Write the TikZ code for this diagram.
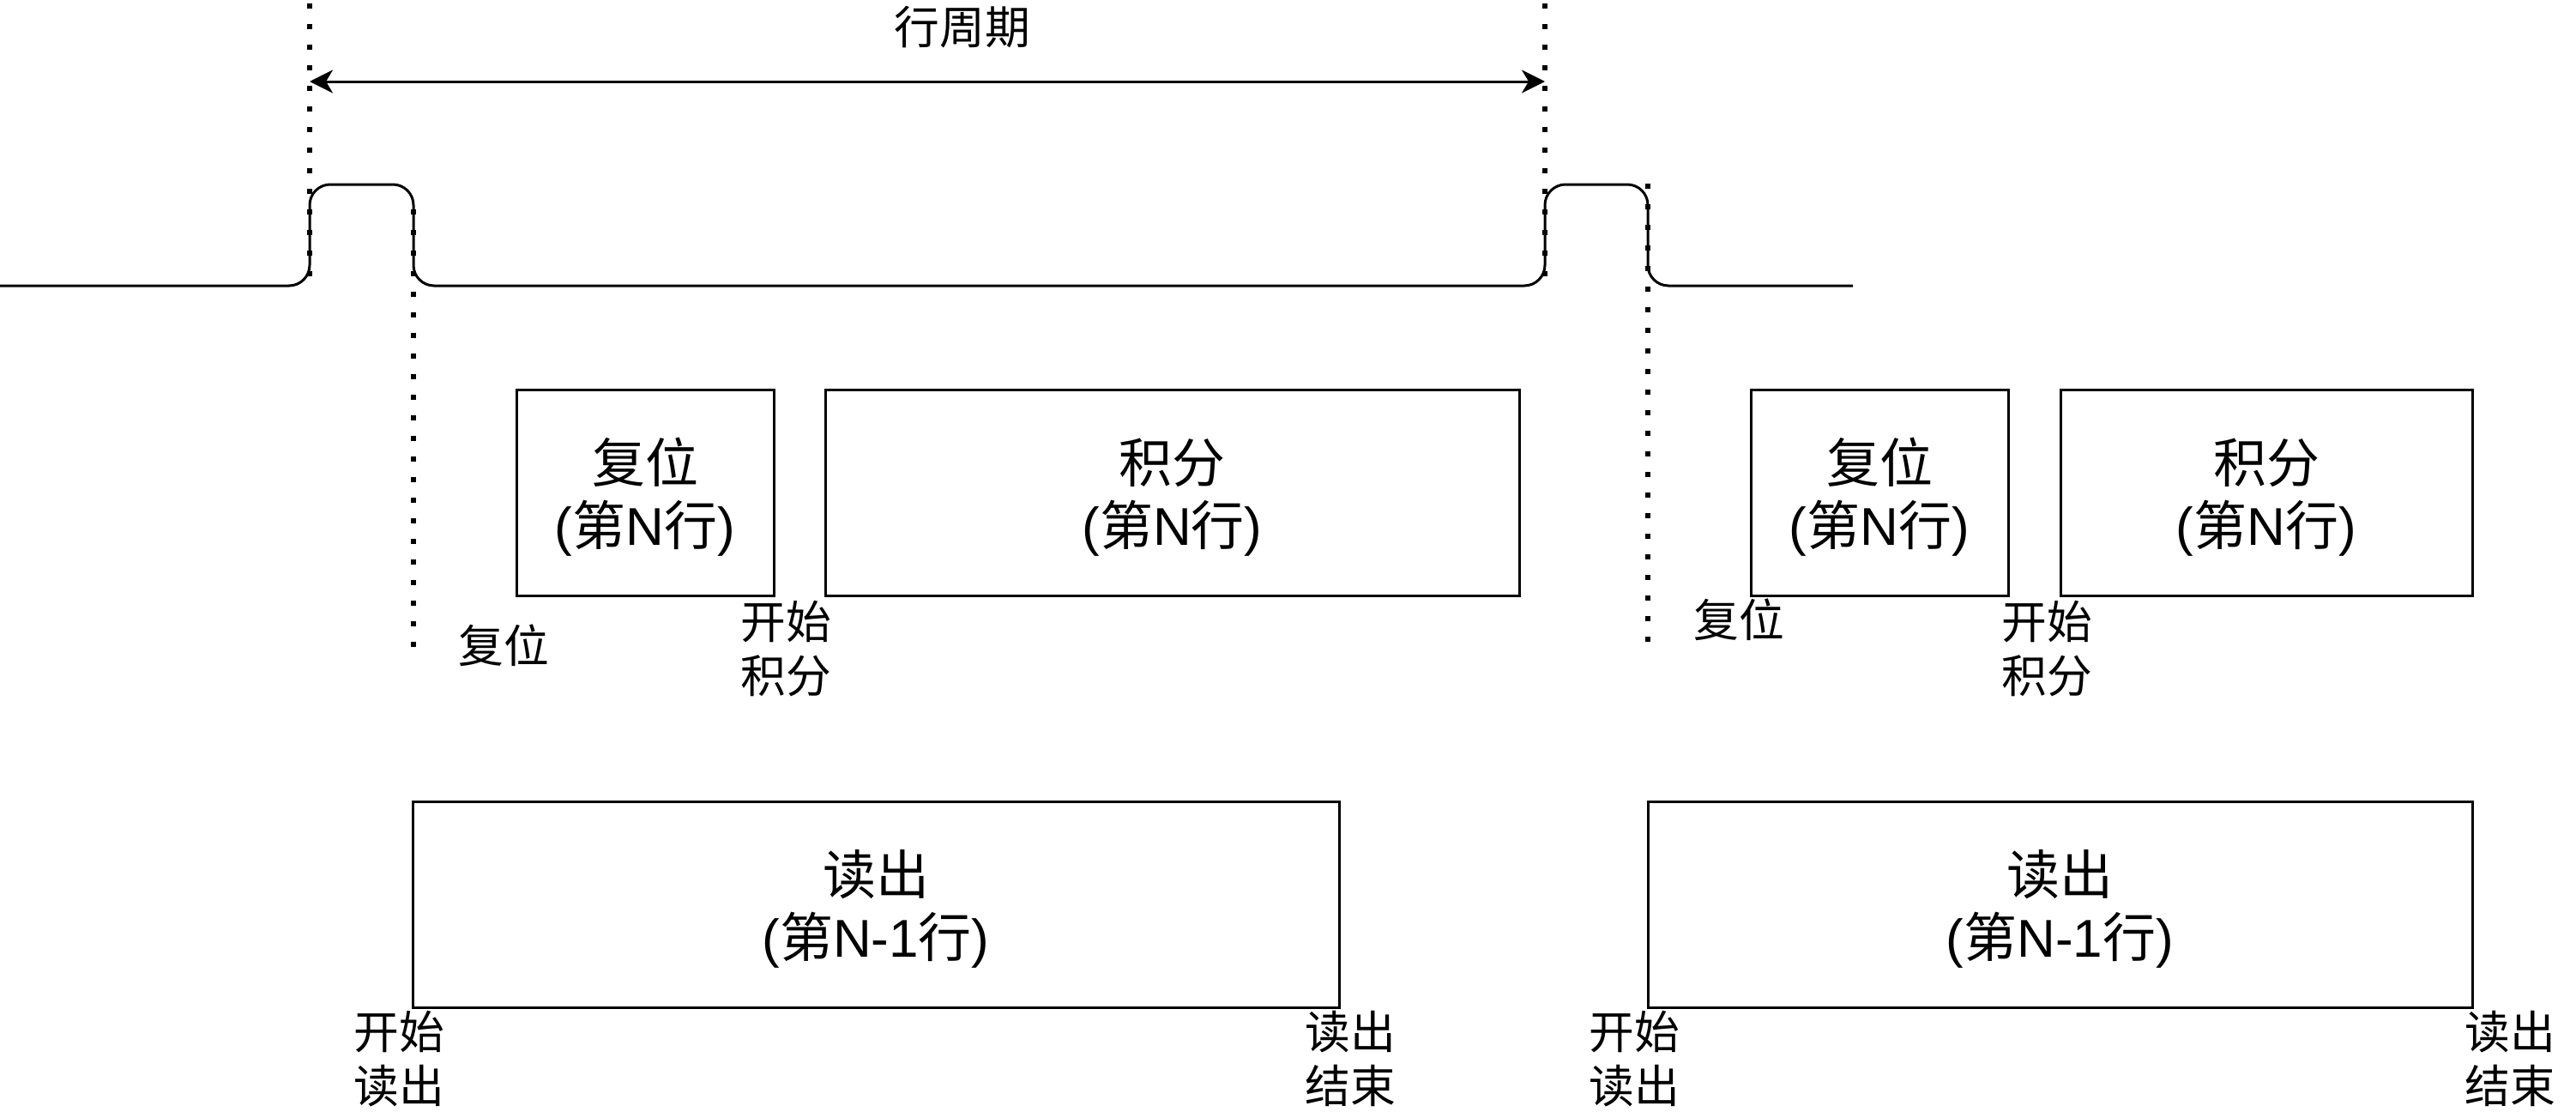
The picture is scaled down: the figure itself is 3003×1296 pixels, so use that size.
\documentclass[tikz,border=0pt]{standalone}
\usepackage{fontspec}
\setmainfont{Liberation Sans}
\newfontfamily\cjk{Noto Sans CJK SC}
\usetikzlibrary{arrows.meta}
\newcommand{\hz}[1]{{\cjk #1}}

\begin{document}
\begin{tikzpicture}[x=0.25pt,y=-0.25pt,
  wave/.style={line width=0.75pt, rounded corners=6pt},
  guide/.style={line width=1.5pt, dash pattern=on 1.5pt off 4.5pt},
  phase/.style={draw, line width=0.75pt, inner sep=0pt, minimum height=60pt},
  phasetext/.style={inner sep=0pt, align=center, yshift=-1.25pt,
    font=\fontsize{15.5pt}{18.25pt}\selectfont},
  tag/.style={inner sep=0pt, align=center, font=\fontsize{13.2pt}{15.6pt}\selectfont},
  span/.style={line width=0.75pt,
    {Stealth[length=6.75pt,width=6.75pt,inset=2pt]}-{Stealth[length=6.75pt,width=6.75pt,inset=2pt]}}]
  \useasboundingbox (0,0) rectangle (3003,1296);

  % row-select waveform
  \draw[wave] (0,333) -- (361,333) -- (361,215) -- (482,215) -- (482,333)
    -- (1801,333) -- (1801,215) -- (1921,215) -- (1921,333) -- (2160,333);

  % guide line end points
  \coordinate (g1a) at (361,4);   \coordinate (g1b) at (361,322);
  \coordinate (g2a) at (482,244); \coordinate (g2b) at (482,754);
  \coordinate (g3a) at (1801,4);  \coordinate (g3b) at (1801,322);
  \coordinate (g4a) at (1921,214); \coordinate (g4b) at (1921,748);
  \draw[guide] (g1a) -- (g1b);
  \draw[guide] (g2a) -- (g2b);
  \draw[guide] (g3a) -- (g3b);
  \draw[guide] (g4a) -- (g4b);

  % line period
  \coordinate (pl) at (361,95);
  \coordinate (pr) at (1801,95);
  \draw[span] (pl) -- (pr);
  \node[tag] (period) at (1122,32) {\hz{行周期}};

  % phases of row N
  \node[phase, minimum width=75pt] (reset1) at (752,574.5) {};
  \node[phase, minimum width=202.25pt] (integ1) at (1366.5,574.5) {};
  \node[phase, minimum width=75pt] (reset2) at (2191,574.5) {};
  \node[phase, minimum width=120pt] (integ2) at (2642,574.5) {};
  \node[phasetext] (reset1t) at (reset1.center) {\hz{复位}\\(\hz{第}N\hz{行})};
  \node[phasetext] (integ1t) at (integ1.center) {\hz{积分}\\(\hz{第}N\hz{行})};
  \node[phasetext] (reset2t) at (reset2.center) {\hz{复位}\\(\hz{第}N\hz{行})};
  \node[phasetext] (integ2t) at (integ2.center) {\hz{积分}\\(\hz{第}N\hz{行})};

  % readout of row N-1
  \node[phase, minimum width=270pt] (read1) at (1021,1054.5) {};
  \node[phase, minimum width=240.25pt] (read2) at (2401.5,1054.5) {};
  \node[phasetext] (read1t) at (read1.center) {\hz{读出}\\(\hz{第}N-1\hz{行})};
  \node[phasetext] (read2t) at (read2.center) {\hz{读出}\\(\hz{第}N-1\hz{行})};

  % event labels
  \node[tag] (lreset1) at (587,752) {\hz{复位}};
  \node[tag] (lint1) at (916,756) {\hz{开始}\\\hz{积分}};
  \node[tag] (lreset2) at (2027,722) {\hz{复位}};
  \node[tag] (lint2) at (2386,756) {\hz{开始}\\\hz{积分}};
  \node[tag] (lrs1) at (465,1234) {\hz{开始}\\\hz{读出}};
  \node[tag] (lre1) at (1574,1234) {\hz{读出}\\\hz{结束}};
  \node[tag] (lrs2) at (1905,1234) {\hz{开始}\\\hz{读出}};
  \node[tag] (lre2) at (2926,1234) {\hz{读出}\\\hz{结束}};
\end{tikzpicture}
\end{document}
